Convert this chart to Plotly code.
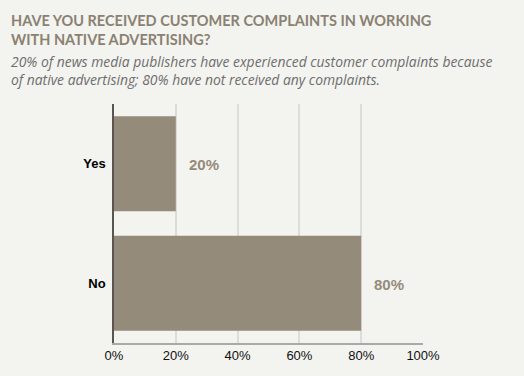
import plotly.graph_objects as go

categories = ["Yes", "No"]
values = [20, 80]
tick_vals = [0, 20, 40, 60, 80, 100]
tick_text = ["0%", "20%", "40%", "60%", "80%", "100%"]
value_labels = ["20%", "80%"]

title_text = "HAVE YOU RECEIVED CUSTOMER COMPLAINTS IN WORKING<br>WITH NATIVE ADVERTISING?"
subtitle_text = ("20% of news media publishers have experienced customer complaints because<br>"
                 "of native advertising; 80% have not received any complaints.")

BG = "#f3f3ef"
BAR = "#958b7a"

fig = go.Figure()
fig.add_trace(go.Bar(
    x=values, y=categories, orientation="h",
    marker=dict(color=BAR, line=dict(width=0)),
    width=0.795, hoverinfo="skip",
))

for c, v, t in zip(categories, values, value_labels):
    fig.add_annotation(x=v, y=c, text=t, showarrow=False, xanchor="left",
                       xshift=11, yshift=-1,
                       font=dict(family="Arial, Liberation Sans", size=15, color=BAR, weight="bold"))

W, H = 524, 376
L, R, T, B = 114, 101, 104, 33
ph = H - T - B

def py(ypix):
    return (H - B - ypix) / ph

def px(xpix):
    return (xpix - L) / (W - L - R)

fig.add_annotation(xref="paper", yref="paper", x=px(9), y=py(10), xanchor="left", yanchor="top",
                   text=title_text, showarrow=False, align="left",
                   font=dict(family="Lato", size=14.5, color="#8a8172", weight="bold"))
fig.add_annotation(xref="paper", yref="paper", x=px(9), y=py(49.5), xanchor="left", yanchor="top",
                   text=subtitle_text, showarrow=False, align="left",
                   font=dict(family="Open Sans", size=13.9, color="#6e6e6e", style="italic"))

fig.update_layout(
    width=W, height=H,
    margin=dict(l=L, r=R, t=T, b=B),
    paper_bgcolor=BG, plot_bgcolor=BG,
    showlegend=False,
    bargap=0.2,
    xaxis=dict(range=[0, 100], tickvals=tick_vals, ticktext=tick_text,
               showgrid=True, gridcolor="#dcdcd8", gridwidth=1.5,
               zeroline=False, showline=True, linecolor="#a9a9a6", linewidth=1.5,
               ticks="", tickfont=dict(family="Arial, Liberation Sans", size=13, color="#111"),
               fixedrange=True),
    yaxis=dict(categoryorder="array", categoryarray=["No", "Yes"],
               range=[-0.5, 1.5], showgrid=False, zeroline=False,
               showline=True, linecolor="#5a5550", linewidth=1.5,
               ticks="", ticklabelstandoff=4,
               tickfont=dict(family="Arial, Liberation Sans", size=13, color="#000", weight="bold"),
               fixedrange=True),
)

fig.write_html("out.html", config={"displayModeBar": False},
               post_script="document.body.style.margin='0';document.body.style.background='%s';" % BG)
